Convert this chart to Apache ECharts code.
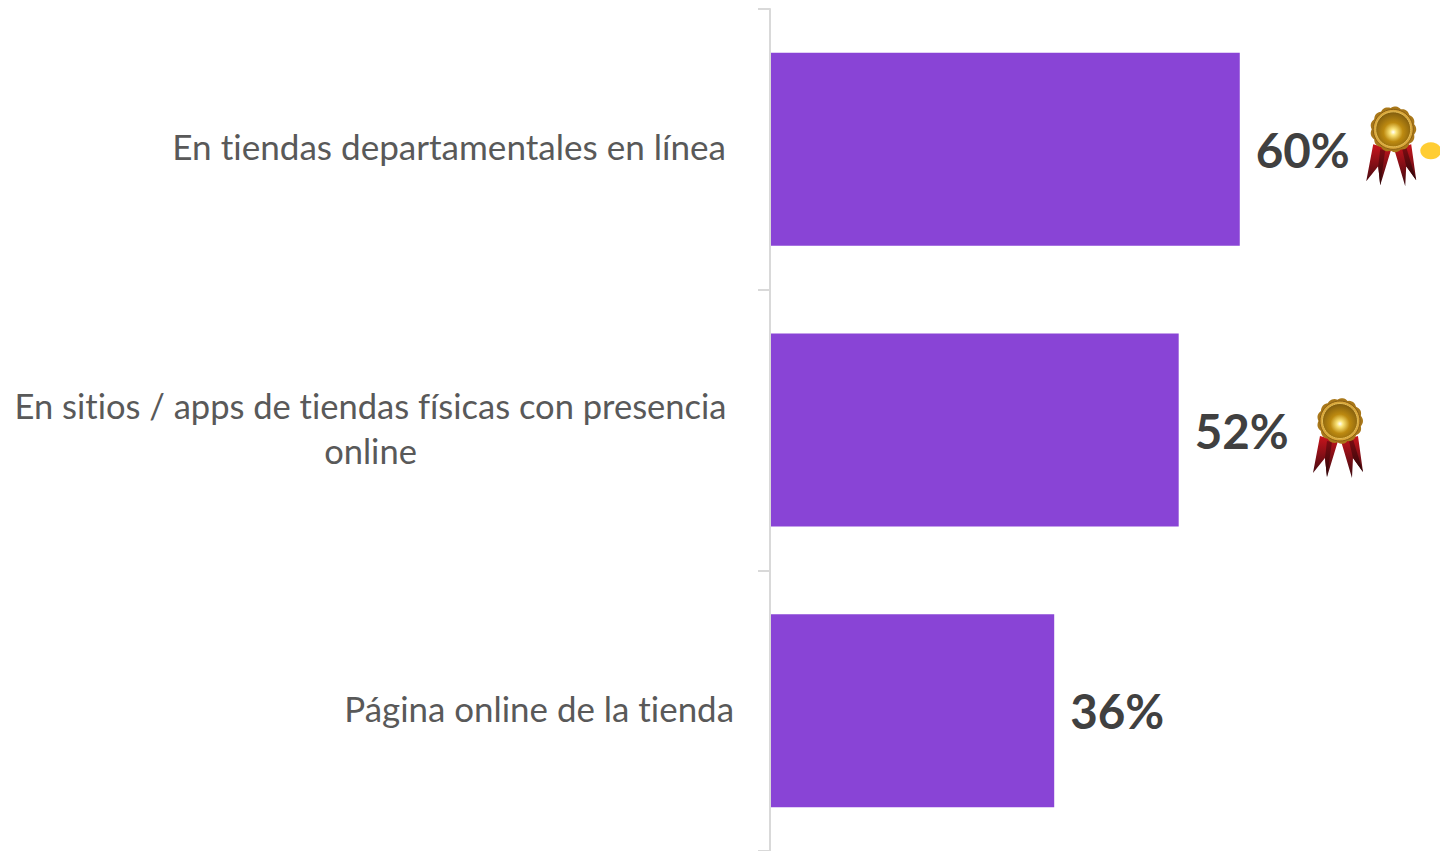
<!DOCTYPE html>
<html><head><meta charset="utf-8">
<style>html,body{margin:0;padding:0;background:#fff;overflow:hidden}#c{width:1440px;height:851px}#c text{font-variant-ligatures:none}</style>
<script src="https://cdn.jsdelivr.net/npm/echarts@6/dist/echarts.min.js"></script>
</head><body><div id="c"></div>
<script>
const categories = [
  'En tiendas departamentales en línea',
  'En sitios / apps de tiendas físicas con presencia\nonline',
  'Página online de la tienda'
];
const values = [60, 52.2, 36.3];
const medalAt = [[79.6, 0], [72.8, 1]];
const dotAt = [[84.4, 0]];

const medalRise = [20, 9];
const labelFont = 'Lato, Carlito, sans-serif';
const labelBase = { fontFamily: labelFont, color: '#595959', lineHeight: 45 };

function medal(params, api) {
  const p = api.coord([api.value(0), api.value(1)]);
  const R = 23, n = 13, pts = [];
  for (let i = 0; i < n * 8; i++) {
    const a = i / (n * 8) * Math.PI * 2;
    const r = R - 1.5 + 1.5 * Math.abs(Math.cos(a * n / 2));
    pts.push([r * Math.cos(a), r * Math.sin(a)]);
  }
  const ribbon = (shape, c1, c2) => ({
    type: 'polygon', shape: { points: shape },
    style: { fill: { type: 'linear', x: 0, y: 0, x2: 0, y2: 1, colorStops: [{ offset: 0, color: c1 }, { offset: 1, color: c2 }] } }
  });
  return {
    type: 'group', x: p[0], y: p[1] - medalRise[params.dataIndex],
    children: [
      ribbon([[-20, 15], [-2, 20], [-13, 56], [-15, 37], [-27, 52]], '#c8141c', '#3a0a10'),
      ribbon([[-13, 20], [-8, 21], [-13, 56], [-15, 37]], '#7d0c12', '#2c0608'),
      ribbon([[1, 20], [18, 15], [23, 51], [13, 37], [12, 57]], '#c8141c', '#3a0a10'),
      ribbon([[9, 20], [13, 18], [23, 51], [13, 37]], '#7d0c12', '#2c0608'),
      { type: 'polygon', shape: { points: pts }, style: { fill: '#a9781a' } },
      { type: 'circle', shape: { cx: 0, cy: 0, r: 20 }, style: { fill: '#d9a63a', stroke: '#8a5f12', lineWidth: 1 } },
      { type: 'circle', shape: { cx: 0, cy: 0, r: 17.5 }, style: {
        fill: { type: 'radial', x: 0.5, y: 0.58, r: 0.55, colorStops: [
          { offset: 0, color: '#ffffff' }, { offset: 0.16, color: '#fbe57a' },
          { offset: 0.5, color: '#bd8a10' }, { offset: 1, color: '#86600e' }] },
        stroke: '#e2bb55', lineWidth: 1 } }
    ]
  };
}

const styleKeys = ['a', 'b', 'c'];
const chart = echarts.init(document.getElementById('c'), null, { renderer: 'svg' });
chart.setOption({
  animation: false,
  grid: { left: 770, top: 9, width: 665.5, height: 844 },
  xAxis: { type: 'value', min: 0, max: 85, show: false },
  yAxis: {
    type: 'category', inverse: true, data: categories, z: 5,
    axisLine: { show: true, lineStyle: { color: '#d9d9d9', width: 2 } },
    axisTick: { show: true, length: 12, lineStyle: { color: '#d9d9d9', width: 2 } },
    axisLabel: {
      margin: 36, fontSize: 34.5, fontFamily: labelFont, color: '#595959', lineHeight: 45,
      formatter: (v, i) => v.split('\n').map(s => '{' + styleKeys[i] + '|' + s + '}').join('\n'),
      rich: {
        a: { ...labelBase, fontSize: 35.1, padding: [0, 8, 6, 0] },
        b: { ...labelBase, fontSize: 34.5, width: 711, align: 'center', padding: [0, 8, 5, 0] },
        c: { ...labelBase, fontSize: 34.9, padding: [0, 0, 5, 0] }
      }
    }
  },
  series: [
    { type: 'bar', data: values, barWidth: 193, itemStyle: { color: '#8944D6' },
      label: { show: true, position: 'right', distance: 16, formatter: p => Math.round(p.value) + '%', fontSize: 47.5, fontWeight: 'bold', fontFamily: labelFont, color: '#404040', offset: [0, 0] } },
    { type: 'custom', data: medalAt, renderItem: medal, clip: false, encode: { x: 0, y: 1 } },
    { type: 'scatter', data: dotAt, symbol: 'circle', symbolSize: [21, 17], symbolOffset: [0, 1.5], clip: false, itemStyle: { color: '#FFC000' } }
  ]
});
</script></body></html>
